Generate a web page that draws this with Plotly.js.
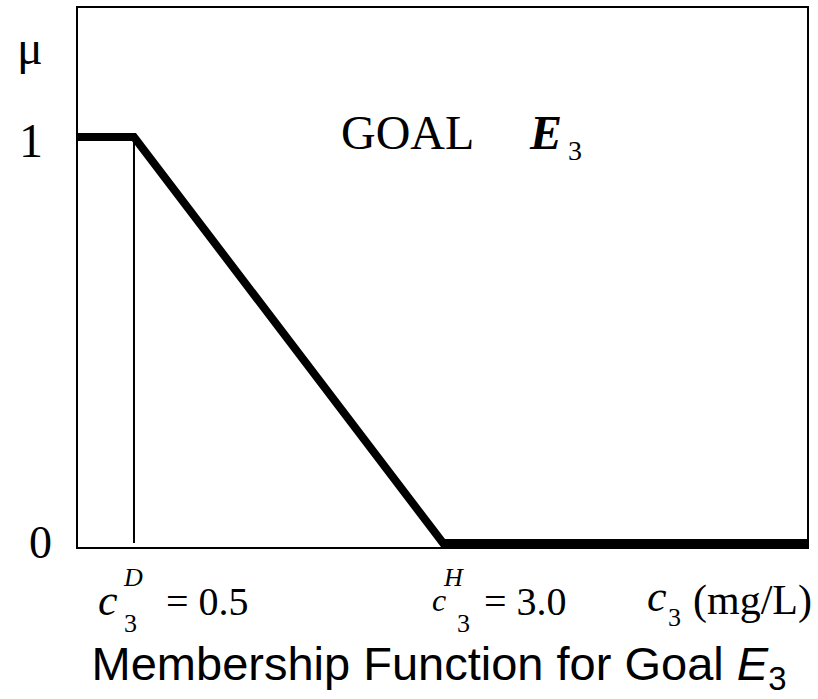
<!DOCTYPE html>
<html><head><meta charset="utf-8">
<script src="https://cdn.plot.ly/plotly-3.0.1.min.js"></script>
<style>body{margin:0;background:#fff}#chart{width:818px;height:699px}</style>
</head><body><div id="chart"></div>
<script>
// ---- data ----
const concentration = [0, 0.5, 3.0, 6.0];   // c3 (mg/L)
const membership = [1, 1, 0, 0];           // mu
const cD = 0.5;                             // c3^D
const cH = 3.0;                             // c3^H
const yTickVals = [0, 1];
const yTickText = ['0', '1'];

// ---- layout helpers (pixel -> paper) ----
const L = 78, R = 807, T = 8, B = 547;
const px = x => (x - L) / (R - L);
const py = y => (B - y) / (B - T);
const SERIF = 'Liberation Serif, Times New Roman, serif';
const SANS = 'Liberation Sans, Arial, sans-serif';

function ann(text, opts) {
  return Object.assign({
    text: text, showarrow: false, xanchor: 'center', yanchor: 'middle',
    font: {family: SERIF, size: 40, color: '#000'}
  }, opts);
}

const annotations = [];
// y tick labels + axis symbol
annotations.push(ann(yTickText[1], {xref: 'paper', x: px(31), yref: 'y', y: yTickVals[1], yshift: -4, font: {family: SERIF, size: 48, color: '#000'}}));
annotations.push(ann(yTickText[0], {xref: 'paper', x: px(40), yref: 'y', y: yTickVals[0], yshift: 1, font: {family: SERIF, size: 46, color: '#000'}}));
annotations.push(ann('\u03BC', {xref: 'paper', x: px(30), yref: 'paper', y: py(48), font: {family: SERIF, size: 48, color: '#000'}}));

// goal label
annotations.push(ann('GOAL', {xref: 'paper', x: px(407), yref: 'paper', y: py(132), font: {family: SERIF, size: 48, color: '#000'}}));
annotations.push(ann('<i><b>E</b></i>', {xref: 'paper', x: px(545), yref: 'paper', y: py(132), font: {family: SERIF, size: 48, color: '#000'}}));
annotations.push(ann('3', {xref: 'paper', x: px(575), yref: 'paper', y: py(151), font: {family: SERIF, size: 28, color: '#000'}}));

// x labels at c3^D and c3^H
function xLabel(val, sup, cShift, cSize, supShift, subShift, eqShift, eqSize) {
  annotations.push(ann('<i>c</i>', {xref: 'x', x: val, xshift: cShift, yref: 'paper', y: py(600), font: {family: SERIF, size: cSize, color: '#000'}}));
  annotations.push(ann('<i>' + sup + '</i>', {xref: 'x', x: val, xshift: supShift, yref: 'paper', y: py(577), font: {family: SERIF, size: 26, color: '#000'}}));
  annotations.push(ann('3', {xref: 'x', x: val, xshift: subShift, yref: 'paper', y: py(623), font: {family: SERIF, size: 26, color: '#000'}}));
  annotations.push(ann('= ' + val.toFixed(1), {xref: 'x', x: val, xshift: eqShift, yref: 'paper', y: py(601), font: {family: SERIF, size: eqSize, color: '#000'}}));
}
xLabel(cD, 'D', -26, 44, -1, -3, 74, 40);
xLabel(cH, 'H', -4, 32, 11, 21, 83, 40);

// axis unit label
annotations.push(ann('<i>c</i>', {xref: 'paper', x: px(657), yref: 'paper', y: py(596), font: {family: SERIF, size: 44, color: '#000'}}));
annotations.push(ann('3', {xref: 'paper', x: px(674), yref: 'paper', y: py(617), font: {family: SERIF, size: 26, color: '#000'}}));
annotations.push(ann('(mg/L)', {xref: 'paper', x: px(752), yref: 'paper', y: py(600), font: {family: SERIF, size: 42, color: '#000'}}));

const traces = [
  {x: [cD, cD], y: [membership[2], membership[1]], mode: 'lines', line: {color: '#000', width: 2}, hoverinfo: 'skip'},
  {x: concentration, y: membership, mode: 'lines', line: {color: '#000', width: 8}, hoverinfo: 'skip'}
];

const layout = {
  width: 818, height: 699,
  margin: {l: L, r: 818 - R, t: T, b: 699 - B, pad: 0},
  paper_bgcolor: '#fff', plot_bgcolor: '#fff',
  showlegend: false,
  title: {text: 'Membership Function for Goal <i>E</i><sub>3</sub>', font: {family: SANS, size: 47, color: '#000'},
          xref: 'paper', x: px(439), xanchor: 'center', yref: 'container', y: 1 - 664 / 699, yanchor: 'middle'},
  xaxis: {range: [0.047, 5.945], showgrid: false, zeroline: false, showticklabels: false, ticks: '',
          showline: true, mirror: true, linecolor: '#000', linewidth: 2, fixedrange: true},
  yaxis: {range: [-0.00985, 1.3177], showgrid: false, zeroline: false, showticklabels: false, ticks: '',
          showline: true, mirror: true, linecolor: '#000', linewidth: 2, fixedrange: true},
  annotations: annotations
};

Plotly.newPlot('chart', traces, layout, {displayModeBar: false, staticPlot: true});
</script></body></html>
